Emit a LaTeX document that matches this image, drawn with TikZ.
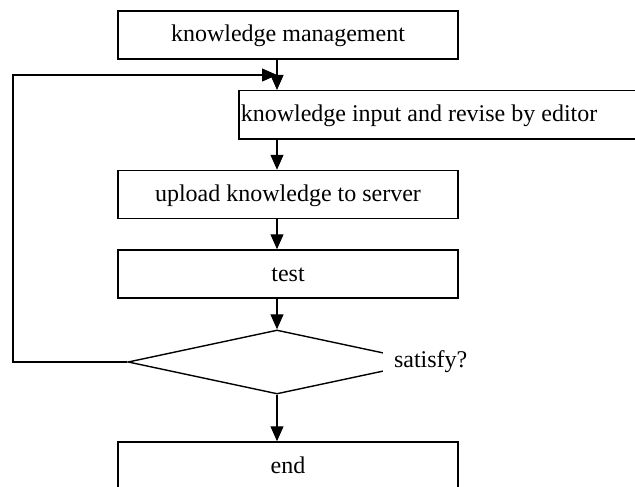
\documentclass[tikz,border=0pt]{standalone}
\usepackage{fontspec}
\setmainfont{Liberation Serif}
\usetikzlibrary{arrows.meta,shapes.geometric}

\tikzset{
	stage/.style={draw, line width=1.5pt, minimum width=340pt, minimum height=48pt,
		inner sep=0pt, text height=18pt, text depth=4pt},
	flow/.style={line width=1.2pt, -{Triangle[length=15pt,width=13pt]}},
}

\begin{document}
\begin{tikzpicture}[x=1pt,y=-1pt,font=\fontsize{24}{29}\selectfont]
	% fix the frame of the page
	\clip (0,0) rectangle (635,487);
	\fill[white] (0,0) rectangle (635,487);

	% draw the steps of the flow
	\node[stage] (manage) at (288,35) {knowledge management};
	\node[stage, anchor=north west, minimum width=420pt, text width=416pt,
		align=flush left, inner xsep=1pt] (edit) at (238,90) {knowledge input and revise by editor};
	\node[stage] (upload) at (288,194.5) {upload knowledge to server};
	\node[stage] (test) at (288,274) {test};
	\node[draw, diamond, line width=1.4pt, minimum width=298pt, minimum height=64pt,
		inner sep=0pt] (check) at (277,362) {};
	\node[fill=white, inner xsep=11pt, inner ysep=4pt, xshift=4pt] (answer) at (check.east) {satisfy?};
	\node[stage] (finish) at (288,466) {end};

	% define the coordinates of the loop back
	\coordinate (merge) at (277,75);
	\coordinate (back) at (13,75);

	% draw the arrows down the flow
	\draw[flow] (manage.south -| check) -- (edit.north -| check);
	\draw[flow] (edit.south -| check) -- (upload.north -| check);
	\draw[flow] (upload.south -| check) -- (test.north -| check);
	\draw[flow] (test.south -| check) -- (check.north);
	\draw[flow] (check.south) -- (finish.north -| check);

	% draw the loop back to the editor
	\draw[flow] (check.west) -| (back) -- (merge);
\end{tikzpicture}
\end{document}
